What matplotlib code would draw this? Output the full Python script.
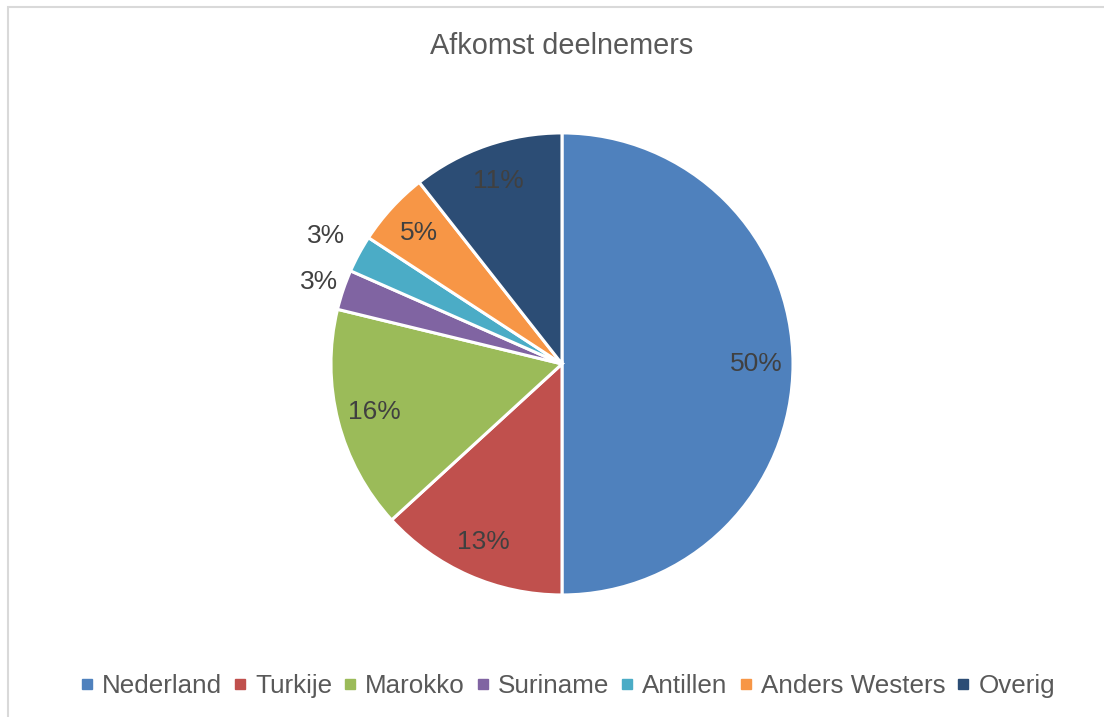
import numpy as np
import matplotlib
matplotlib.use("Agg")
import matplotlib.pyplot as plt
from matplotlib.lines import Line2D
from matplotlib.patches import Rectangle

plt.rcParams['font.family'] = ['Liberation Sans', 'DejaVu Sans']

# data (percentages)
herkomst = ['Nederland', 'Turkije', 'Marokko', 'Suriname', 'Antillen', 'Anders Westers', 'Overig']
aandeel = [50.0, 13.2, 15.6, 2.8, 2.6, 5.2, 10.6]
kleuren = ['#4F81BD', '#C0504D', '#9BBB59', '#8064A2', '#4BACC6', '#F79646', '#2C4D75']

fig = plt.figure(figsize=(11.04, 7.17), dpi=100)

# light grey chart border (only top and left visible in the crop)
fig.patches.append(Rectangle((8 / 1104, -0.1), 1.2, 1.1 - 7.5 / 717,
                             transform=fig.transFigure, fill=False,
                             edgecolor='#D9D9D9', linewidth=1.5))

ax = fig.add_axes([0.2998, 0.1702, 0.4185, 0.6444])
wedges, texts, autotexts = ax.pie(
    aandeel, colors=kleuren, startangle=90, counterclock=False,
    autopct='%1.0f%%', pctdistance=0.84,
    wedgeprops=dict(edgecolor='white', linewidth=2.2),
    textprops=dict(fontsize=19, color='#404040'))
ax.set_xlim(-1, 1)
ax.set_ylim(-1, 1)
ax.set_aspect('auto')

# small slices get their label outside the pie
buiten = {3: 1.11, 4: 1.16}
for i, r in buiten.items():
    w = wedges[i]
    mid = np.deg2rad((w.theta1 + w.theta2) / 2)
    autotexts[i].set_position((r * np.cos(mid), r * np.sin(mid)))

fig.text(0.509, 1 - 46 / 717, 'Afkomst deelnemers', ha='center', va='center',
         fontsize=20.8, color='#595959')

handles = [Line2D([], [], marker='s', linestyle='', markersize=7.5,
                  markerfacecolor=c, markeredgecolor=c) for c in kleuren]
fig.legend(handles, herkomst, loc='center', bbox_to_anchor=(0.514, 31 / 717),
           ncol=7, frameon=False, fontsize=18.7, labelcolor='#595959',
           handlelength=0.55, handletextpad=0.3, columnspacing=0.42,
           borderaxespad=0)

fig.savefig('out.png', dpi=100)
